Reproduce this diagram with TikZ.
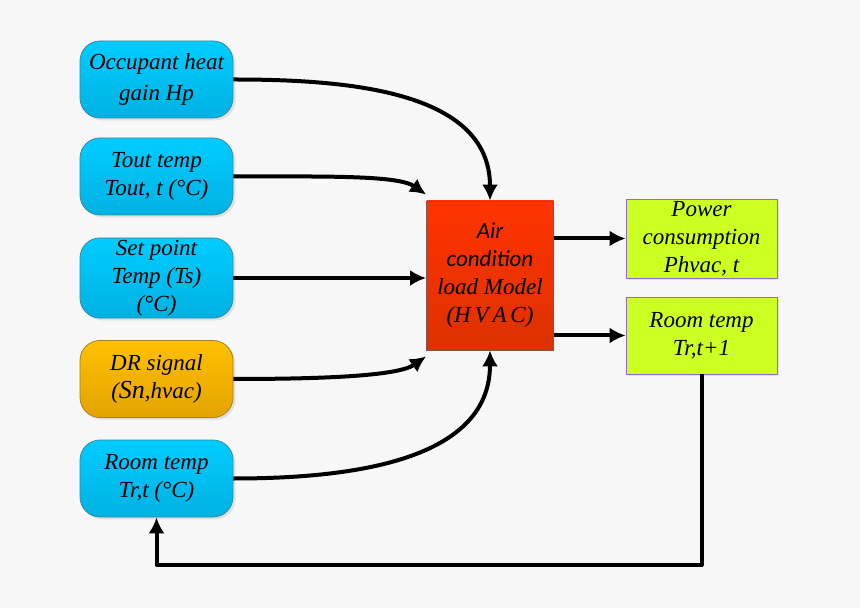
\documentclass[tikz,border=0pt]{standalone}
\usepackage{fontspec}
\setmainfont{Liberation Serif}
\newfontfamily\calib{Carlito}
\usetikzlibrary{positioning,arrows.meta,shadows}
\definecolor{bgc}{HTML}{F7F7F7}
\definecolor{cyantop}{HTML}{00CCFF}
\definecolor{cyanbot}{HTML}{00B2E2}
\definecolor{cyanedge}{HTML}{3A8AA0}
\definecolor{orgtop}{HTML}{FFC000}
\definecolor{orgbot}{HTML}{E3A400}
\definecolor{orgedge}{HTML}{A88020}
\definecolor{redtop}{HTML}{FF3300}
\definecolor{redbot}{HTML}{DC3100}
\definecolor{rededge}{HTML}{7A5A50}
\definecolor{lime}{HTML}{CCFF22}
\definecolor{limeedge}{HTML}{9966CC}

\begin{document}
\begin{tikzpicture}[x=0.5pt, y=-0.5pt,
    every node/.style={align=center, font=\itshape\fontsize{11.5}{14}\selectfont},
    inbox/.style={draw=cyanedge, rounded corners=10pt, minimum width=76.5pt, minimum height=38.5pt,
        inner sep=1pt, top color=cyantop, bottom color=cyanbot,
        drop shadow={shadow xshift=1.2pt, shadow yshift=-1.2pt, fill=black!12, opacity=1}},
    drbox/.style={inbox, draw=orgedge, top color=orgtop, bottom color=orgbot},
    outbox/.style={draw=limeedge, fill=lime, minimum width=75.5pt, inner sep=1pt,
        drop shadow={shadow xshift=1pt, shadow yshift=-1pt, fill=black!10, opacity=1}},
    flow/.style={line width=2pt, -{Latex[length=8pt,width=8pt]}}]
    \useasboundingbox[fill=bgc] (0,0) rectangle (860,608);

    % inputs
    \node[inbox, font=\itshape\fontsize{11.5}{15.5}\selectfont] (Occ) at (156.5,79.5) {Occupant heat\\gain Hp};
    \node[inbox] (Tout) at (156.5,176.5) {Tout temp\\Tout, t (°C)};
    \node[inbox] (SetP) at (156.5,278) {Set point\\Temp (Ts)\\(°C)};
    \node[drbox] (DR) at (156.5,379) {DR signal\\({\fontsize{13}{14}\selectfont Sn},hvac)};
    \node[inbox] (Room) at (156.5,478.5) {Room temp\\Tr,t (°C)};

    % model
    \node[draw=rededge, top color=redtop, bottom color=redbot, minimum width=63.5pt, minimum height=74.5pt,
        inner sep=1pt] (HVAC) at (490,275.5)
        {{\calib\itshape Air}\\{\calib\itshape condition}\\load Model\\(H\,V\,A\,C)};

    % outputs
    \node[outbox, minimum height=39.5pt] (Power) at (701.5,238.5) {Power\\consumption\\Phvac, t};
    \node[outbox, minimum height=38.5pt] (RoomNext) at (701.5,335.5) {Room temp\\Tr,t+1};

    \draw[flow] (Occ.east) to[out=0, in=90] (HVAC.north);
    \draw[flow] (Tout.east) to[out=0, in=145, in looseness=0.45, out looseness=1.2] ([yshift=3pt]HVAC.north west);
    \draw[flow] (SetP.east) -- (HVAC.west |- SetP.east);
    \draw[flow] (DR.east) to[out=0, in=215, in looseness=0.45, out looseness=1.2] ([yshift=-3pt]HVAC.south west);
    \draw[flow] (Room.east) to[out=0, in=-90] (HVAC.south);

    \draw[flow] (HVAC.east |- Power.west) -- (Power.west);
    \draw[flow] (HVAC.east |- RoomNext.west) -- (RoomNext.west);

    \coordinate (fb) at (430,565);
    \draw[flow, line join=round] (RoomNext.south) |- (fb) -| (Room.south);
\end{tikzpicture}
\end{document}
